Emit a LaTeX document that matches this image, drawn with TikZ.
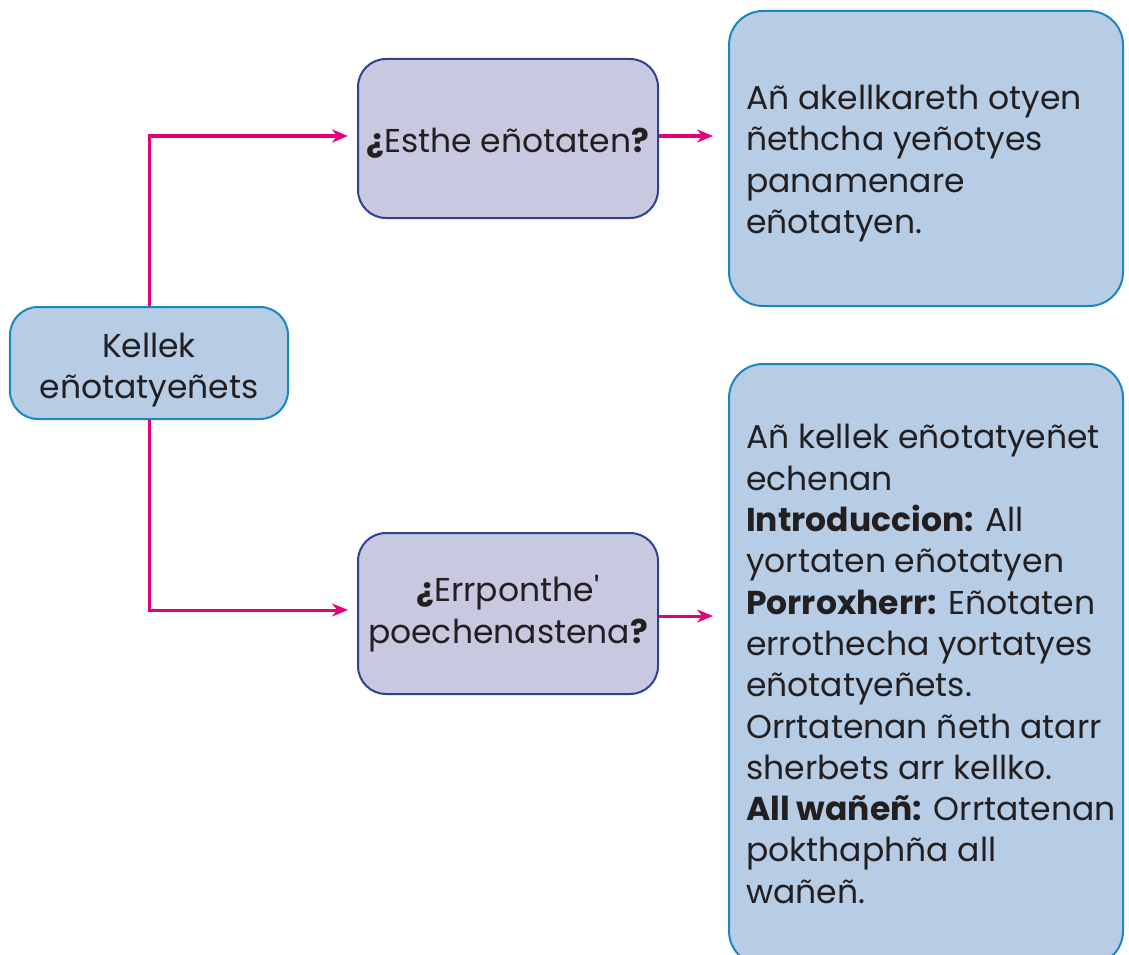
\documentclass[tikz,border=0pt]{standalone}
\usepackage{fontspec}
\setmainfont{Poppins}
\usetikzlibrary{arrows.meta}
\definecolor{boxblue}{HTML}{B6CDE5}
\definecolor{edgeblue}{HTML}{1B87C0}
\definecolor{boxlav}{HTML}{C9C8E1}
\definecolor{edgelav}{HTML}{2B4393}
\definecolor{mag}{HTML}{E5007E}
\definecolor{ink}{HTML}{231F20}
\tikzset{
  x=1pt, y=-1pt,
  base/.style={rounded corners=28pt, line width=2pt, text=ink, font=\fontsize{33}{41.3}\selectfont},
  bluebox/.style={base, fill=boxblue, draw=edgeblue},
  lavbox/.style={base, fill=boxlav, draw=edgelav, align=center, inner sep=0pt},
  bigbox/.style={bluebox, rounded corners=34pt, minimum width=394pt, inner sep=0pt},
  bodytext/.style={text=ink, font=\fontsize{33}{41.3}\selectfont, align=left, inner sep=0pt, anchor=west},
  link/.style={draw=mag, line width=3pt, -{Stealth[length=16pt,width=13pt]}}
}
\newcommand{\apos}{\XeTeXglyph\XeTeXglyphindex "quotesingle"\relax}
\begin{document}
\begin{tikzpicture}
\useasboundingbox (0,0) rectangle (1129,955);
\node[bluebox, minimum width=278pt, minimum height=112pt, align=center, inner sep=0pt] (root) at (149,363) {\rule{0pt}{38pt}Kellek\\eñotatyeñets};
\node[lavbox, minimum width=300pt, minimum height=159pt] (q1) at (508,138.5) {\rule{0pt}{34pt}\textbf{¿}Esthe eñotaten\textbf{?}};
\node[lavbox, minimum width=300pt, minimum height=161pt] (q2) at (508,613.5) {\textbf{¿}Errponthe\apos\\poechenastena\textbf{?}};
\node[bigbox, minimum height=295pt] (a1) at (926,158.5) {};
\node[bigbox, minimum height=601pt] (a2) at (926,664.5) {};
\node[bodytext] (a1t) at (746,163.5) {Añ akellkareth otyen\\ñethcha yeñotyes\\panamenare\\eñotatyen.};
\node[bodytext] (a2t) at (746,664) {Añ kellek eñotatyeñet\\echenan\\\textbf{Introduccion:} All\\yortaten eñotatyen\\\textbf{Porroxherr:} Eñotaten\\errothecha yortatyes\\eñotatyeñets.\\Orrtatenan ñeth atarr\\sherbets arr kellko.\\\textbf{All wañeñ:} Orrtatenan\\pokthaphña all\\wañeñ.};
\coordinate (q1in) at ([yshift=2.5pt]q1.west);
\coordinate (q2in) at ([yshift=3.5pt]q2.west);
\draw[link, shorten >=9pt] (root.north) |- (q1in);
\draw[link, shorten >=9pt] (root.south) |- (q2in);
\draw[link, shorten >=15pt] ([yshift=2.5pt]q1.east) -- ([yshift=2.5pt]q1.east -| a1.west);
\draw[link, shorten >=15pt] ([yshift=-2.5pt]q2.east) -- ([yshift=-2.5pt]q2.east -| a2.west);
\end{tikzpicture}
\end{document}
